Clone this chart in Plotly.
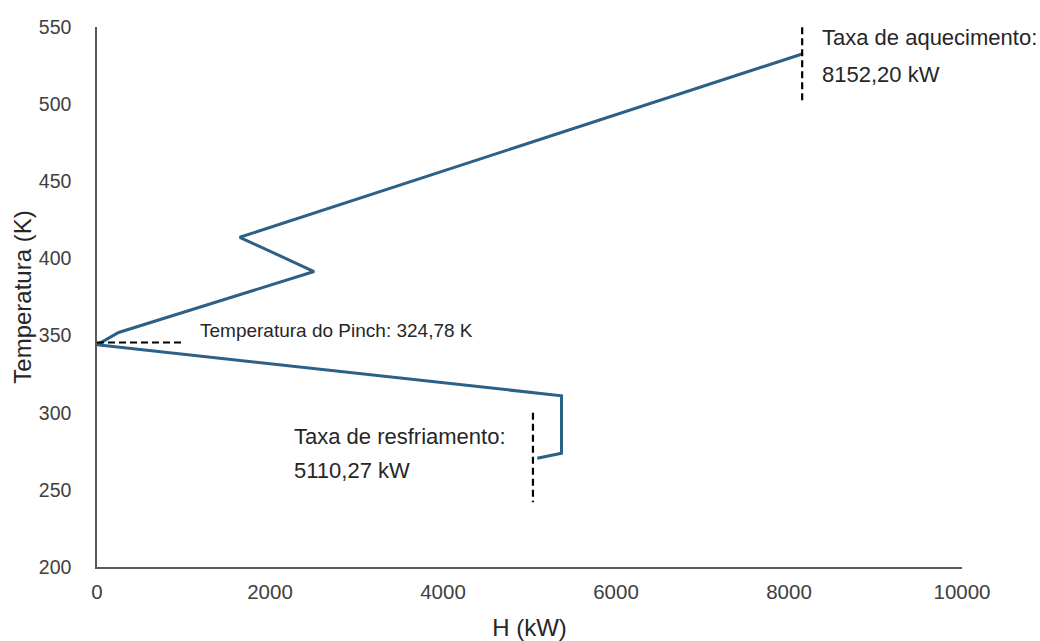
import plotly.graph_objects as go

# Grand composite curve (H in kW, T in K)
curve_H = [8152.2, 1650, 2510, 250, 0, 5370, 5370, 5090]
curve_T = [532.5, 413.7, 391.5, 352.0, 344.0, 311.0, 273.7, 270.5]

# Dashed marker lines
heat_dash_H = [8152.2, 8152.2]
heat_dash_T = [557, 500]
cool_dash_H = [5040, 5040]
cool_dash_T = [300, 242]
pinch_dash_H = [0, 1000]
pinch_dash_T = [345.5, 345.5]

x_ticks = [0, 2000, 4000, 6000, 8000, 10000]
y_ticks = [200, 250, 300, 350, 400, 450, 500, 550]

FONT = "Liberation Sans, Arial, sans-serif"
TXT = "#262626"
TICK = "#404040"

fig = go.Figure()
fig.add_trace(go.Scatter(x=curve_H, y=curve_T, mode="lines",
                         line=dict(color="#2c6087", width=3),
                         cliponaxis=False, showlegend=False))
for hx, hy in [(heat_dash_H, heat_dash_T), (cool_dash_H, cool_dash_T),
               (pinch_dash_H, pinch_dash_T)]:
    fig.add_trace(go.Scatter(x=hx, y=hy, mode="lines",
                             line=dict(color="black", width=2.2, dash="7px,4px"),
                             cliponaxis=False, showlegend=False))

ann = [
    ("Taxa de aquecimento:", 8358, 543, 22),
    ("8152,20 kW", 8358, 519, 22),
    ("Temperatura do Pinch: 324,78 K", 1170, 353, 19),
    ("Taxa de resfriamento:", 2254, 284.3, 22),
    ("5110,27 kW", 2254, 262.3, 22),
]
for t, ax_, ay_, fs in ann:
    fig.add_annotation(text=t, x=ax_, y=ay_, xref="x", yref="y",
                       xanchor="left", yanchor="middle", showarrow=False,
                       font=dict(family=FONT, size=fs, color=TXT))

fig.update_layout(
    width=1040, height=641,
    margin=dict(l=97, r=78, t=27, b=74),
    paper_bgcolor="white", plot_bgcolor="white",
    font=dict(family=FONT, color=TICK),
)
fig.update_xaxes(range=[0, 10000], tickvals=x_ticks,
                 ticktext=[str(v) for v in x_ticks],
                 showgrid=False, zeroline=False, showline=True,
                 linecolor="#595959", linewidth=1.5, ticks="",
                 ticklabelstandoff=6, automargin=False,
                 tickfont=dict(size=20.5, color=TICK),
                 title=dict(text="H (kW)", font=dict(size=24, color=TXT), standoff=24))
fig.update_yaxes(range=[200, 550], tickvals=y_ticks,
                 ticktext=[str(v) for v in y_ticks],
                 showgrid=False, zeroline=False, showline=True,
                 linecolor="#595959", linewidth=1.5, ticks="",
                 ticklabelstandoff=20, automargin=False,
                 tickfont=dict(size=19.5, color=TICK),
                 title=dict(text="Temperatura (K)", font=dict(size=24, color=TXT), standoff=0))

fig.write_html("out.html")
